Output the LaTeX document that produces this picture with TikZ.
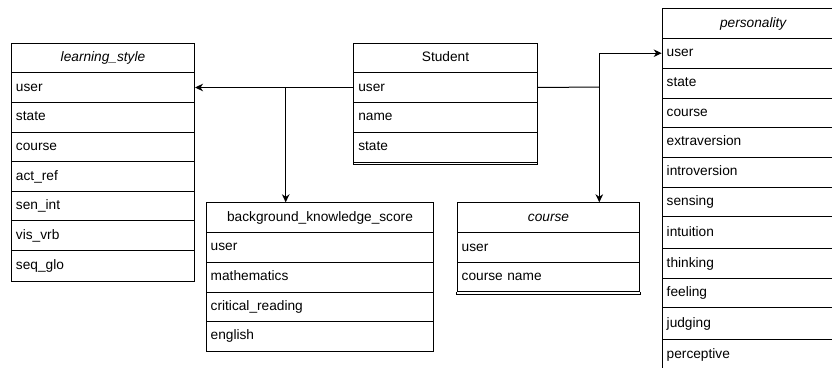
\documentclass[tikz,border=0pt]{standalone}
\usepackage{fontspec}
\setmainfont{Liberation Sans}
\usetikzlibrary{arrows.meta}
\tikzset{
  cell/.style={draw, line width=1pt, anchor=north west, inner xsep=4.5pt, inner ysep=0pt,
    align=left, font=\fontsize{13.7}{16}\selectfont, text height=10pt, text depth=3pt},
  hdr/.style={cell, align=center},
  conn/.style={line width=1pt},
  arr/.style={conn, -{Stealth[length=8pt,width=7.5pt,inset=2.5pt]}}
}
\newcommand\cellrow[7][cell]{%
  \pgfmathsetmacro\cw{#6-9}\pgfmathsetmacro\ch{#5-#4}%
  \node[#1, minimum width=#6pt, text width=\cw pt, minimum height=\ch pt] (#2) at (#3,#4) {#7};}
\begin{document}
\begin{tikzpicture}[x=1pt,y=-1pt]
\useasboundingbox (0,0) rectangle (832,367);
\clip (0,0) rectangle (832,367);
% learning_style
\cellrow[hdr]{ls-h}{11}{42.7}{72.3}{183}{\itshape learning\_style}
\cellrow{ls-user}{11}{72.3}{101.7}{183}{user}
\cellrow{ls-state}{11}{101.7}{131.7}{183}{state}
\cellrow{ls-course}{11}{131.7}{161}{183}{course}
\cellrow{ls-act}{11}{161}{191}{183}{act\_ref}
\cellrow{ls-sen}{11}{191}{220.3}{183}{sen\_int}
\cellrow{ls-vis}{11}{220.3}{250}{183}{vis\_vrb}
\cellrow{ls-seq}{11}{250}{280.7}{183}{seq\_glo}
% Student
\cellrow[hdr]{st-h}{353.3}{42.7}{72.3}{183.4}{Student}
\cellrow{st-user}{353.3}{72.3}{101.7}{183.4}{user}
\cellrow{st-name}{353.3}{101.7}{131.7}{183.4}{name}
\cellrow{st-state}{353.3}{131.7}{161.7}{183.4}{state}
\draw[line width=1pt] (st-state.south west) -- ([yshift=-1.6pt]st-state.south west) -- ([yshift=-1.6pt]st-state.south east) -- (st-state.south east);
% background_knowledge_score
\cellrow[hdr]{bk-h}{205.7}{202.3}{231.7}{227.6}{background\_knowledge\_score}
\cellrow{bk-user}{205.7}{231.7}{261.7}{227.6}{user}
\cellrow{bk-math}{205.7}{261.7}{291.7}{227.6}{mathematics}
\cellrow{bk-crit}{205.7}{291.7}{321}{227.6}{critical\_reading}
\cellrow{bk-eng}{205.7}{321}{350.7}{227.6}{english}
% course
\cellrow[hdr]{co-h}{456.7}{202.3}{232.3}{182.6}{\itshape course}
\cellrow{co-user}{456.7}{232.3}{261.7}{182.6}{user}
\cellrow{co-name}{456.7}{261.7}{291}{182.6}{course name}
\draw[line width=1pt] (co-name.south west) -- ([yshift=-2.3pt]co-name.south west) -- ([yshift=-2.3pt]co-name.south east) -- (co-name.south east);
% personality
\cellrow[hdr]{pe-h}{661.7}{8.3}{37.7}{182}{\itshape personality}
\cellrow{pe-user}{661.7}{37.7}{67.7}{182}{user}
\cellrow{pe-state}{661.7}{67.7}{97.7}{182}{state}
\cellrow{pe-course}{661.7}{97.7}{127}{182}{course}
\cellrow{pe-extra}{661.7}{127}{156.7}{182}{extraversion}
\cellrow{pe-intro}{661.7}{156.7}{186.7}{182}{introversion}
\cellrow{pe-sens}{661.7}{186.7}{216}{182}{sensing}
\cellrow{pe-intu}{661.7}{216}{248.3}{182}{intuition}
\cellrow{pe-think}{661.7}{248.3}{277.7}{182}{thinking}
\cellrow{pe-feel}{661.7}{277.7}{307}{182}{feeling}
\cellrow{pe-judg}{661.7}{307}{339}{182}{judging}
\cellrow{pe-perc}{661.7}{339}{369}{182}{perceptive}
% connectors
\coordinate (jl) at (285.7,87);
\coordinate (jr) at (599.3,87);
\draw[arr] (st-user.west) -- (ls-user.east);
\draw[arr] (jl) -- (jl |- bk-h.north);
\draw[conn] (st-user.east) -- (jr);
\draw[arr] (jr) |- (pe-user.west);
\draw[arr] (jr) -- (jr |- co-h.north);
\end{tikzpicture}
\end{document}
